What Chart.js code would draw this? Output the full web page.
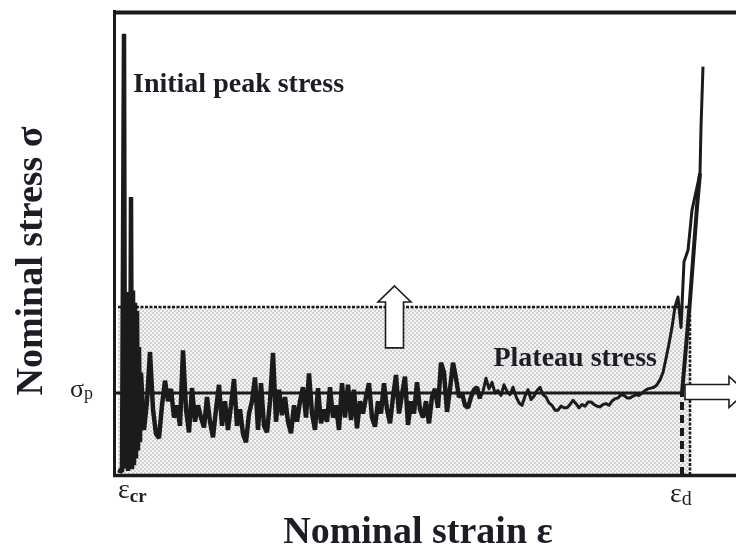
<!DOCTYPE html>
<html>
<head>
<meta charset="utf-8">
<script src="https://cdn.jsdelivr.net/npm/chart.js@4.4.1/dist/chart.umd.min.js"></script>
<style>
  body { margin: 0; background: #fff; }
  #wrap { width: 736px; height: 550px; }
</style>
</head>
<body>
<div id="wrap"><canvas id="curve" width="736" height="550"></canvas></div>
<script>
// strain in %, stress in MPa
const strainMax = 62.3;
const stressMax = 56.46;

const epsCr = 0.5;     // onset of collapse
const epsD = 56.9;     // densification strain
const sigmaP = 10.0;   // plateau stress
const bandTop = 20.5;  // dotted upper bound of the shaded band
const bandRight = 57.7;

// initial collapse, peak stress first
const initStrain = [0.5, 0.9, 1.1, 1.2, 1.4, 1.5, 1.6, 1.7, 1.8, 1.9, 2.0, 2.1, 2.2, 2.3, 2.4, 2.5, 2.6, 2.7];
const initStress = [0.6, 0.4, 53.8, 0.8, 22.0, 0.5, 22.3, 1.0, 33.9, 0.7, 22.5, 1.2, 21.0, 2.0, 20.0, 3.0, 15.6, 4.0];

// plateau region, sampled every 0.3 % strain
const plateauStart = 2.8;
const plateauStep = 0.3;
const plateauStress = [
  12.5, 5.5, 9.0, 15.0, 8.0, 5.0, 4.5, 8.5, 11.5, 9.0,
  10.5, 7.0, 8.5, 6.0, 15.2, 8.0, 5.2, 10.6, 6.5, 8.5,
  7.0, 5.8, 9.5, 6.5, 4.6, 8.0, 11.0, 6.0, 9.0, 5.5,
  8.5, 11.7, 6.0, 8.0, 5.0, 4.0, 7.5, 9.0, 11.9, 5.5,
  11.2, 6.0, 5.2, 9.0, 14.9, 6.5, 10.4, 7.3, 9.5, 6.5,
  5.1, 8.5, 6.5, 9.0, 10.7, 7.0, 12.4, 7.5, 5.5, 10.6,
  6.3, 8.0, 6.5, 10.7, 7.0, 8.5, 5.5, 11.2, 7.0, 11.0,
  6.7, 10.4, 5.7, 9.0, 7.5, 9.5, 11.2, 7.0, 5.9, 9.0,
  7.5, 11.2, 8.0, 6.3, 9.5, 12.2, 7.5, 9.8, 12.0, 6.1,
  9.0, 7.5, 11.3, 8.0, 7.0, 9.0, 6.3, 9.5, 10.5, 8.2,
  13.7, 12.5, 7.7, 10.5, 13.7, 11.8, 9.5, 10.0, 8.5, 8.2,
  9.5, 10.4, 10.7, 9.3, 10.2, 11.8, 10.5, 11.3, 10.0, 10.3,
  9.7, 11.0, 10.2, 9.8, 10.7, 9.6, 8.8, 8.5, 9.6, 10.4,
  9.2, 9.6, 10.3, 10.7, 9.8, 9.5, 8.8, 8.5, 7.9, 7.9,
  8.4, 8.2, 8.2, 8.6, 9.1, 8.7, 8.2, 8.6, 8.4, 8.9,
  8.9, 8.6, 8.4, 8.3, 8.6, 8.7, 8.5, 9.0, 9.3, 9.4,
  9.8, 9.7, 9.4, 9.4, 9.6, 9.8, 9.7, 10.0, 10.3, 10.5,
  10.6, 10.7, 11.0, 11.6, 12.5, 14.2, 16.0, 18.0, 20.5, 21.7, 18.0
];
// the noisy part is drawn heavier than the quiet tail
const noisyCount = 114;

// densification branch of the measured curve
const densStrain = [57.1, 57.5, 57.9, 58.7, 58.8, 59.0];
const densStress = [26.0, 27.4, 32.3, 36.8, 42.4, 49.8];

// straight line rising from the end of the plateau
const riseStrain = [56.9, 57.7, 58.4, 58.7];
const riseStress = [10.0, 21.3, 32.7, 36.8];

const ink = '#1b1b1b';
const textInk = '#1d1d26';
const serif = '"Liberation Serif", "DejaVu Serif", serif';

function pairs(xs, ys) {
  return xs.map((v, i) => ({ x: v, y: ys[i] }));
}

const plateauPts = plateauStress.map((s, i) => ({ x: plateauStart + i * plateauStep, y: s }));
const noisyCurve = pairs(initStrain, initStress).concat(plateauPts.slice(0, noisyCount));
const quietCurve = plateauPts.slice(noisyCount - 1).concat(pairs(densStrain, densStress));

// light stipple used for the band under the dotted bound
function stipple() {
  const c = document.createElement('canvas');
  c.width = 4; c.height = 4;
  const g = c.getContext('2d');
  g.fillStyle = '#f5f5f5';
  g.fillRect(0, 0, 4, 4);
  g.fillStyle = '#d2d2d2';
  g.fillRect(0, 0, 2, 2);
  g.fillRect(2, 2, 2, 2);
  return g.createPattern(c, 'repeat');
}

function hollowArrow(ctx, pts) {
  ctx.beginPath();
  pts.forEach((p, i) => i ? ctx.lineTo(p[0], p[1]) : ctx.moveTo(p[0], p[1]));
  ctx.closePath();
  ctx.fillStyle = '#fff';
  ctx.fill();
  ctx.lineWidth = 1.6;
  ctx.strokeStyle = ink;
  ctx.stroke();
}

const annotations = {
  id: 'annotations',
  afterDatasetsDraw(chart) {
    const { ctx, chartArea: a, scales: { x, y } } = chart;
    ctx.save();

    // frame: left, top and bottom edges only
    ctx.strokeStyle = ink;
    ctx.lineCap = 'butt';
    ctx.lineWidth = 3;
    ctx.beginPath();
    ctx.moveTo(a.left + 1.5, a.top - 2);
    ctx.lineTo(a.left + 1.5, a.bottom + 2);
    ctx.stroke();
    ctx.lineWidth = 4;
    ctx.beginPath();
    ctx.moveTo(a.left, a.top + 0.5);
    ctx.lineTo(a.right, a.top + 0.5);
    ctx.stroke();
    ctx.lineWidth = 3.5;
    ctx.beginPath();
    ctx.moveTo(a.left, a.bottom + 0.5);
    ctx.lineTo(a.right, a.bottom + 0.5);
    ctx.stroke();

    // arrow pushing the bound up
    const ux = x.getPixelForValue(28.15);
    const tip = y.getPixelForValue(23.05);
    const foot = y.getPixelForValue(15.5);
    hollowArrow(ctx, [
      [ux, tip], [ux + 16.5, tip + 16], [ux + 9, tip + 16], [ux + 9, foot],
      [ux - 9, foot], [ux - 9, tip + 16], [ux - 16.5, tip + 16]
    ]);

    // arrow pointing past the densification strain
    const rx = x.getPixelForValue(epsD);
    const ry = y.getPixelForValue(sigmaP) - 1;
    hollowArrow(ctx, [
      [rx + 3, ry - 7.5], [rx + 47, ry - 7.5], [rx + 47, ry - 15.5], [rx + 64, ry],
      [rx + 47, ry + 15.5], [rx + 47, ry + 7.5], [rx + 3, ry + 7.5]
    ]);

    ctx.fillStyle = textInk;
    ctx.textBaseline = 'alphabetic';

    ctx.font = 'bold 28px ' + serif;
    ctx.textAlign = 'left';
    ctx.fillText('Initial peak stress', 133, 92);
    ctx.textAlign = 'right';
    ctx.fillText('Plateau stress', 657, 366);

    // axis titles
    ctx.font = 'bold 38px ' + serif;
    ctx.textAlign = 'center';
    ctx.fillText('Nominal strain \u03b5', 418, 543);
    ctx.save();
    ctx.translate(42, 261);
    ctx.rotate(-Math.PI / 2);
    ctx.fillText('Nominal stress \u03c3', 0, 0);
    ctx.restore();

    // sigma_p beside the plateau level
    ctx.textAlign = 'left';
    const sy = y.getPixelForValue(sigmaP);
    ctx.font = '26px ' + serif;
    const sw = ctx.measureText('\u03c3').width;
    ctx.fillText('\u03c3', 70, sy + 4);
    ctx.font = '18px ' + serif;
    ctx.fillText('p', 70 + sw, sy + 6);

    // strain marks under the axis
    const crx = x.getPixelForValue(epsCr);
    ctx.font = '28px ' + serif;
    const ew = ctx.measureText('\u03b5').width;
    ctx.fillText('\u03b5', crx, 498);
    ctx.font = 'bold 19px ' + serif;
    ctx.fillText('cr', crx + ew, 502);

    const dx = x.getPixelForValue(epsD) - 12;
    ctx.font = '28px ' + serif;
    ctx.fillText('\u03b5', dx, 502);
    ctx.font = '20px ' + serif;
    ctx.fillText('d', dx + ew, 505);

    ctx.restore();
  }
};

new Chart(document.getElementById('curve'), {
  type: 'line',
  data: {
    datasets: [
      {
        data: noisyCurve,
        borderColor: ink,
        borderWidth: 4.5,
        borderJoinStyle: 'bevel',
        order: 0
      },
      {
        data: quietCurve,
        borderColor: ink,
        borderWidth: 3,
        borderJoinStyle: 'round',
        order: 1
      },
      {
        data: pairs(riseStrain, riseStress),
        borderColor: ink,
        borderWidth: 4,
        order: 2
      },
      {
        data: [{ x: 0, y: sigmaP }, { x: epsD, y: sigmaP }],
        borderColor: ink,
        borderWidth: 3,
        order: 3
      },
      {
        data: [{ x: epsD, y: 0 }, { x: epsD, y: sigmaP }],
        borderColor: ink,
        borderWidth: 4,
        borderDash: [8, 5],
        order: 4
      },
      {
        data: [{ x: bandRight, y: 0 }, { x: bandRight, y: bandTop }],
        borderColor: ink,
        borderWidth: 2.5,
        borderDash: [3, 1.5],
        order: 5
      },
      {
        data: [{ x: epsCr, y: bandTop }, { x: bandRight, y: bandTop }],
        borderColor: ink,
        borderWidth: 2.5,
        borderDash: [3, 1.5],
        fill: 'origin',
        backgroundColor: stipple(),
        order: 6
      }
    ]
  },
  options: {
    responsive: false,
    animation: false,
    devicePixelRatio: 1,
    layout: { padding: { left: 113, top: 12, right: 0, bottom: 75 } },
    elements: { point: { radius: 0 }, line: { tension: 0 } },
    plugins: { legend: { display: false }, tooltip: { enabled: false } },
    scales: {
      x: { type: 'linear', min: 0, max: strainMax, display: false },
      y: { type: 'linear', min: 0, max: stressMax, display: false }
    }
  },
  plugins: [annotations]
});
</script>
</body>
</html>
